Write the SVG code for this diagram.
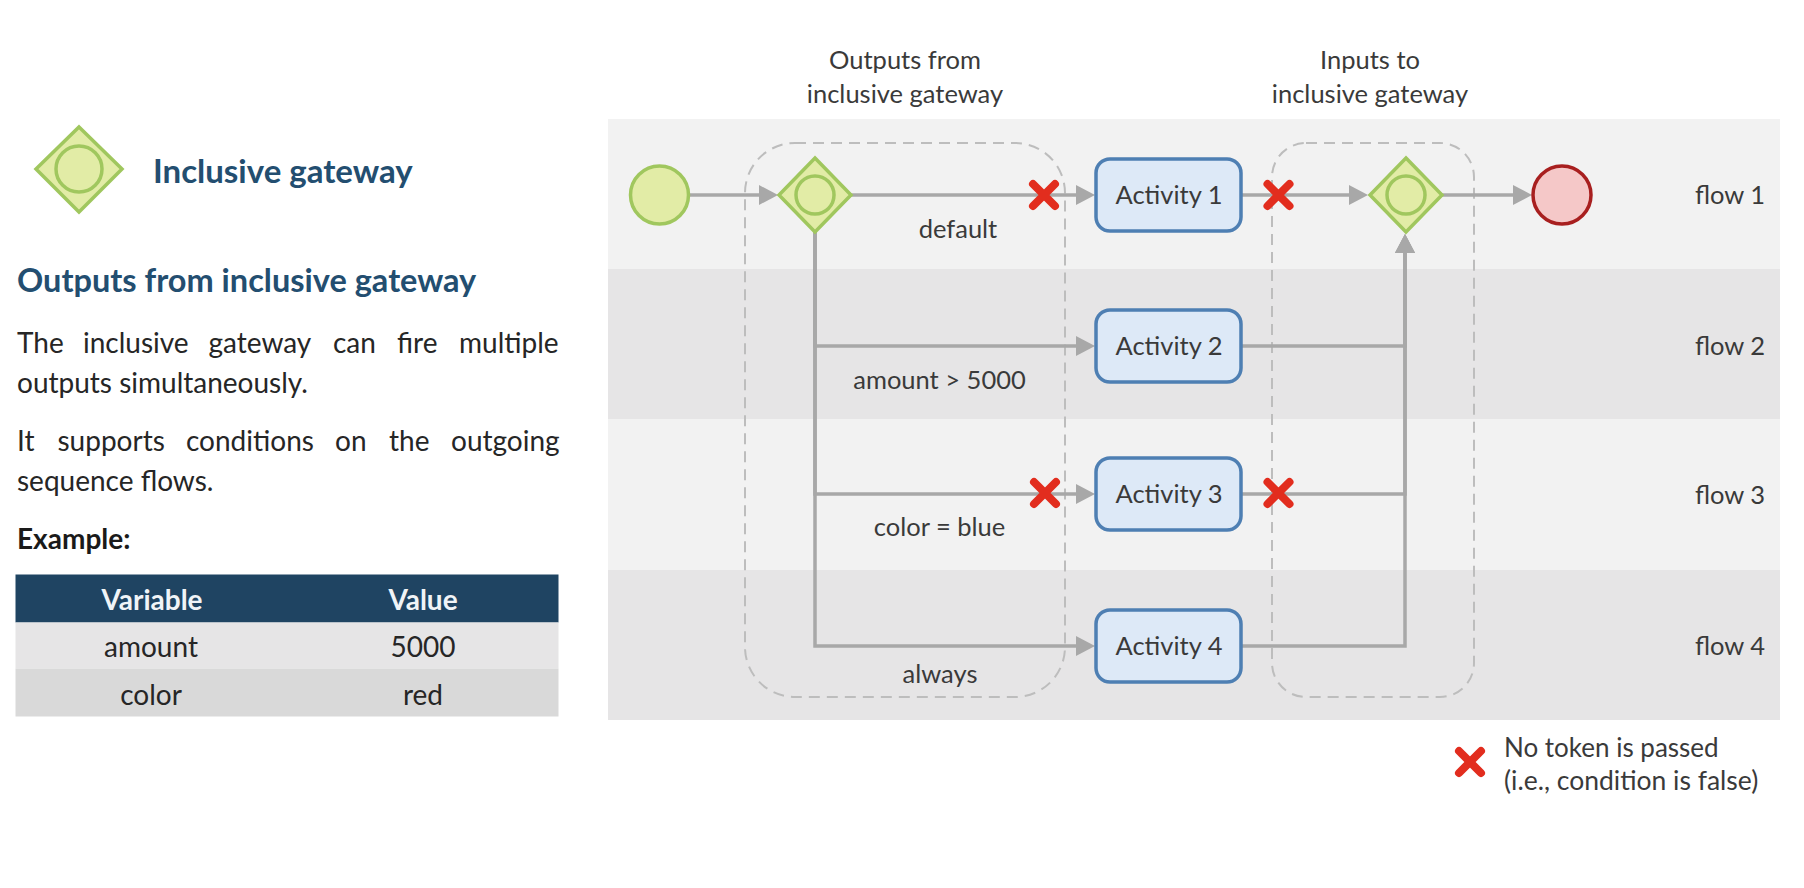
<svg xmlns="http://www.w3.org/2000/svg" width="1804" height="888" viewBox="0 0 1804 888">
<style>
text{font-family:Lato,"Liberation Sans",sans-serif;fill:#3a3a3a;font-size:25.500px}
.mid{text-anchor:middle}
.body{fill:#262626;font-size:28px}
.h{fill:#234e70;font-weight:700}
.conn{fill:none;stroke:#a8a8a8;stroke-width:3.5}
.dash{fill:none;stroke:#bdbdbd;stroke-width:2;stroke-dasharray:11 7}
.gw{fill:#e2eca6;stroke:#a0c75e;stroke-width:3.5}
.act{fill:#dde9f7;stroke:#4e7fb3;stroke-width:3.5}
.x{fill:none;stroke:#e22d1e;stroke-width:8;stroke-linecap:round}
</style>
<defs>
<marker id="arrow" markerUnits="userSpaceOnUse" markerWidth="19" markerHeight="22" refX="12" refY="11" orient="auto"><path d="M0 1L19 11L0 21Z" fill="#a8a8a8"/></marker>
<g id="xmark"><path class="x" d="M-11 -11L11 11M11 -11L-11 11"/></g>
</defs>
<g id="bands">
<rect x="608" y="119" width="1172" height="150" fill="#f2f2f2"/>
<rect x="608" y="269" width="1172" height="150" fill="#e6e5e6"/>
<rect x="608" y="419" width="1172" height="151" fill="#f2f2f2"/>
<rect x="608" y="570" width="1172" height="150" fill="#e6e5e6"/>
</g>
<g id="intro">
<g id="legend-gateway"><path class="gw" d="M79 127L122 169L79 212L36 169Z"/><circle class="gw" cx="79" cy="169" r="23"/></g>
<text class="h" x="153" y="183" style="font-size:33px">Inclusive gateway</text>
<text class="h" x="17" y="292" style="font-size:32.500px">Outputs from inclusive gateway</text>
<text class="body" y="353"><tspan x="17">The</tspan><tspan x="83">inclusive</tspan><tspan x="208.500">gateway</tspan><tspan x="333">can</tspan><tspan x="397">fire</tspan><tspan x="459">multiple</tspan></text>
<text class="body" x="17" y="393">outputs simultaneously.</text>
<text class="body" y="451"><tspan x="17">It</tspan><tspan x="57.500">supports</tspan><tspan x="186">conditions</tspan><tspan x="335">on</tspan><tspan x="389">the</tspan><tspan x="451">outgoing</tspan></text>
<text class="body" x="17" y="491">sequence flows.</text>
<text class="body" x="17" y="549" style="font-weight:700;fill:#1a1a1a">Example:</text>
</g>
<g id="table">
<rect x="15.500" y="574.500" width="543" height="48" fill="#1f4462"/>
<rect x="15.500" y="622.500" width="543" height="46" fill="#e6e5e6"/>
<rect x="15.500" y="668.500" width="543" height="48" fill="#d9d9d9"/>
<text class="body mid" x="152" y="610" style="fill:#f0f4f7;font-weight:700">Variable</text>
<text class="body mid" x="423" y="610" style="fill:#f0f4f7;font-weight:700">Value</text>
<text class="body mid" x="151" y="657">amount</text>
<text class="body mid" x="423" y="657">5000</text>
<text class="body mid" x="151" y="705">color</text>
<text class="body mid" x="423" y="705">red</text>
</g>
<g id="groups">
<rect class="dash" x="745" y="143" width="320" height="554" rx="50"/>
<rect class="dash" x="1272" y="143" width="202" height="554" rx="34"/>
<text class="mid" x="905" y="69">Outputs from</text>
<text class="mid" x="905" y="103">inclusive gateway</text>
<text class="mid" x="1370" y="69">Inputs to</text>
<text class="mid" x="1370" y="103">inclusive gateway</text>
</g>
<g id="connectors">
<path class="conn" marker-end="url(#arrow)" d="M689 195H771"/>
<path class="conn" marker-end="url(#arrow)" d="M850 195H1088"/>
<path class="conn" marker-end="url(#arrow)" d="M815 232V346H1088"/>
<path class="conn" marker-end="url(#arrow)" d="M815 232V494H1088"/>
<path class="conn" marker-end="url(#arrow)" d="M815 232V646H1088"/>
<path class="conn" marker-end="url(#arrow)" d="M1241 195H1361"/>
<path class="conn" marker-end="url(#arrow)" d="M1241 346H1405V241"/>
<path class="conn" marker-end="url(#arrow)" d="M1241 494H1405V241"/>
<path class="conn" marker-end="url(#arrow)" d="M1241 646H1405V241"/>
<path class="conn" marker-end="url(#arrow)" d="M1441 195H1525"/>
</g>
<g id="start"><circle class="gw" cx="659.500" cy="195" r="29"/></g>
<g id="gateway-out"><path class="gw" d="M815 158L851 195L815 232L779 195Z"/><circle class="gw" cx="815" cy="195" r="19"/></g>
<g id="activity-1"><rect class="act" x="1096" y="159" width="145" height="72" rx="14"/><text class="mid" x="1169" y="204">Activity 1</text></g>
<g id="activity-2"><rect class="act" x="1096" y="310" width="145" height="72" rx="14"/><text class="mid" x="1169" y="355">Activity 2</text></g>
<g id="activity-3"><rect class="act" x="1096" y="458" width="145" height="72" rx="14"/><text class="mid" x="1169" y="503">Activity 3</text></g>
<g id="activity-4"><rect class="act" x="1096" y="610" width="145" height="72" rx="14"/><text class="mid" x="1169" y="655">Activity 4</text></g>
<g id="gateway-in"><path class="gw" d="M1406 158L1442 195L1406 232L1370 195Z"/><circle class="gw" cx="1406" cy="195" r="19"/></g>
<g id="end"><circle cx="1562" cy="195" r="29" fill="#f5c8c8" stroke="#a81f1f" stroke-width="3.500"/></g>
<g id="labels">
<text class="mid" x="958" y="238">default</text>
<text class="mid" x="939.500" y="389">amount &gt; 5000</text>
<text class="mid" x="939.500" y="536">color = blue</text>
<text class="mid" x="940" y="683">always</text>
<text class="mid" x="1730" y="204">flow 1</text>
<text class="mid" x="1730" y="355">flow 2</text>
<text class="mid" x="1730" y="504">flow 3</text>
<text class="mid" x="1730" y="655">flow 4</text>
</g>
<g id="marks">
<use href="#xmark" x="1044" y="195"/>
<use href="#xmark" x="1278.500" y="195"/>
<use href="#xmark" x="1045" y="493"/>
<use href="#xmark" x="1278.500" y="493"/>
<use href="#xmark" x="1470" y="762"/>
</g>
<g id="legend-note">
<text x="1504" y="757" style="font-size:26px">No token is passed</text>
<text x="1504" y="790" style="font-size:26.500px">(i.e., condition is false)</text>
</g>
</svg>
